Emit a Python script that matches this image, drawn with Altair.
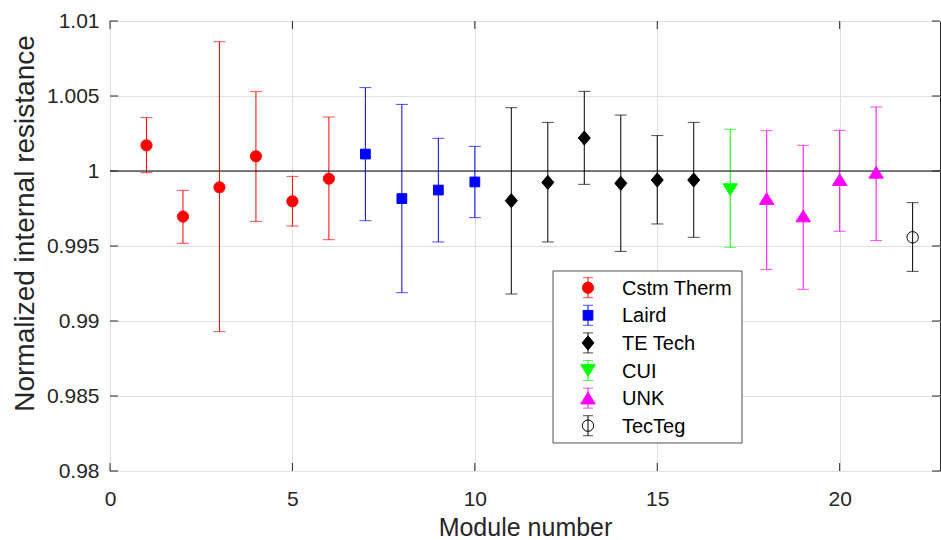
import altair as alt
import pandas as pd

# ---------------- data ----------------
modules = list(range(1, 23))
values = [1.00171, 0.99696, 0.99891, 1.00098, 0.99798, 0.99949,
          1.00113, 0.99816, 0.99873, 0.99927,
          0.99802, 0.99924, 1.00220, 0.99918, 0.99940, 0.99940,
          0.99876,
          0.99816, 0.99700, 0.99942, 0.99991,
          0.99558]
upper = [1.00356, 0.99871, 1.00862, 1.00529, 0.99964, 1.00360,
         1.00556, 1.00444, 1.00218, 1.00164,
         1.00422, 1.00324, 1.00531, 1.00373, 1.00236, 1.00324,
         1.00278,
         1.00269, 1.00171, 1.00271, 1.00427,
         0.99789]
lower = [0.99989, 0.99518, 0.98929, 0.99664, 0.99633, 0.99542,
         0.99669, 0.99189, 0.99527, 0.99689,
         0.99180, 0.99527, 0.99911, 0.99464, 0.99647, 0.99558,
         0.99491,
         0.99344, 0.99211, 0.99598, 0.99536,
         0.99331]
group_names = ["Cstm Therm", "Laird", "TE Tech", "CUI", "UNK", "TecTeg"]
groups = (["Cstm Therm"] * 6 + ["Laird"] * 4 + ["TE Tech"] * 6 +
          ["CUI"] + ["UNK"] * 4 + ["TecTeg"])
x_ticks = [0, 5, 10, 15, 20]
y_ticks = [0.98, 0.985, 0.99, 0.995, 1.0, 1.005, 1.01]

# ---------------- styles ----------------
colors = ["#ff0000", "#0000ff", "#000000", "#00ff00", "#ff00ff", "#000000"]
fills = ["#ff0000", "#0000ff", "#000000", "#00ff00", "#ff00ff", "transparent"]
shapes = ["circle", "square", "M0,-1L0.85,0L0,1L-0.85,0Z",
          "M0,0.8L1,-0.8L-1,-0.8Z", "M0,-0.8L1,0.8L-1,0.8Z", "circle"]
sizes = [125, 95, 200, 210, 210, 130]

W, H = 830, 450
XMAX = 22.75
YMIN, YMAX = 0.98, 1.01
FONT = "Liberation Sans"
AX = "#262626"


def px_x(px):
    return px / W * XMAX


def px_y(py):
    return YMAX - py / H * (YMAX - YMIN)


df = pd.DataFrame({"module": modules, "value": values, "upper": upper,
                   "lower": lower, "group": groups})

xs = alt.Scale(domain=[0, XMAX], nice=False, zero=False)
ys = alt.Scale(domain=[YMIN, YMAX], nice=False, zero=False)
col_scale = alt.Scale(domain=group_names, range=colors)

xenc = alt.X("module:Q", scale=xs,
             axis=alt.Axis(values=x_ticks, title="Module number", grid=True,
                           ticks=False, domain=False, labelPadding=17,
                           labelFlush=False,
                           labelFontSize=21, titleFontSize=25,
                           titleY=64, titleBaseline="alphabetic"))
yaxis = alt.Axis(values=y_ticks, format="~g",
                 title="Normalized internal resistance", grid=True,
                 ticks=False, domain=False, labelPadding=11, labelFlush=False,
                 labelFontSize=21, titleFontSize=28, titleX=-77,
                 titleY=202, titleBaseline="alphabetic", titleAngle=-90,
                 titleAlign="center")

base = alt.Chart(df)

zero_line = base.mark_rule(color="black", strokeWidth=1).encode(
    y=alt.Y("v:Q", scale=ys, axis=yaxis)
).transform_calculate(v="1").transform_aggregate(v="min(v)")

err = base.mark_rule(strokeWidth=1).encode(
    x=xenc,
    y=alt.Y("lower:Q", scale=ys, axis=yaxis),
    y2="upper:Q",
    color=alt.Color("group:N", scale=col_scale, legend=None),
)
cap_hi = base.mark_tick(orient="horizontal", size=12, thickness=1).encode(
    x=alt.X("module:Q", scale=xs),
    y=alt.Y("upper:Q", scale=ys),
    color=alt.Color("group:N", scale=col_scale, legend=None),
)
cap_lo = base.mark_tick(orient="horizontal", size=12, thickness=1).encode(
    x=alt.X("module:Q", scale=xs),
    y=alt.Y("lower:Q", scale=ys),
    color=alt.Color("group:N", scale=col_scale, legend=None),
)

# legend (positioned in pixel space, converted through the scales)
leg_top, leg_step = 266.7, 27.6
leg = pd.DataFrame({
    "group": group_names,
    "lx": [px_x(478)] * 6,
    "tx": [px_x(512)] * 6,
    "ly": [px_y(leg_top + i * leg_step) for i in range(6)],
    "lhi": [px_y(leg_top + i * leg_step - 10) for i in range(6)],
    "llo": [px_y(leg_top + i * leg_step + 10) for i in range(6)],
})

marker_layers = []
for g, c, f, s, sz in zip(group_names, colors, fills, shapes, sizes):
    for src, xf, yf in ((df, "module", "value"), (leg, "lx", "ly")):
        marker_layers.append(
            alt.Chart(src).mark_point(
                shape=s, size=sz, stroke=c, fill=f, filled=False,
                opacity=1, strokeWidth=1,
            ).encode(
                x=alt.X(f"{xf}:Q", scale=xs),
                y=alt.Y(f"{yf}:Q", scale=ys),
            ).transform_filter(alt.datum.group == g)
        )

# inward ticks
tick_len = 8
xt = pd.DataFrame({"t": x_ticks})
yt = pd.DataFrame({"t": y_ticks})
tick_b = alt.Chart(xt).mark_rule(color=AX).encode(
    x=alt.X("t:Q", scale=xs), y=alt.value(H - tick_len), y2=alt.value(H))
tick_t = alt.Chart(xt).mark_rule(color=AX).encode(
    x=alt.X("t:Q", scale=xs), y=alt.value(0), y2=alt.value(tick_len))
tick_l = alt.Chart(yt).mark_rule(color=AX).encode(
    y=alt.Y("t:Q", scale=ys), x=alt.value(0), x2=alt.value(tick_len))
tick_r = alt.Chart(yt).mark_rule(color=AX).encode(
    y=alt.Y("t:Q", scale=ys), x=alt.value(W - tick_len), x2=alt.value(W))

box = pd.DataFrame({"x1": [px_x(443)], "x2": [px_x(632)],
                    "y1": [px_y(250)], "y2": [px_y(422)]})
leg_box = alt.Chart(box).mark_rect(fill="white", stroke=AX,
                                   strokeWidth=0.8).encode(
    x=alt.X("x1:Q", scale=xs), x2="x2:Q",
    y=alt.Y("y1:Q", scale=ys), y2="y2:Q")
lb = alt.Chart(leg)
leg_err = lb.mark_rule(strokeWidth=1).encode(
    x=alt.X("lx:Q", scale=xs), y=alt.Y("llo:Q", scale=ys), y2="lhi:Q",
    color=alt.Color("group:N", scale=col_scale, legend=None))
leg_hi = lb.mark_tick(orient="horizontal", size=10, thickness=1).encode(
    x=alt.X("lx:Q", scale=xs), y=alt.Y("lhi:Q", scale=ys),
    color=alt.Color("group:N", scale=col_scale, legend=None))
leg_lo = lb.mark_tick(orient="horizontal", size=10, thickness=1).encode(
    x=alt.X("lx:Q", scale=xs), y=alt.Y("llo:Q", scale=ys),
    color=alt.Color("group:N", scale=col_scale, legend=None))
leg_txt = lb.mark_text(align="left", baseline="middle", font=FONT,
                       fontSize=20, color="black", dy=1).encode(
    x=alt.X("tx:Q", scale=xs), y=alt.Y("ly:Q", scale=ys), text="group:N")

chart = alt.layer(
    err, zero_line, cap_hi, cap_lo,
    tick_b, tick_t, tick_l, tick_r,
    leg_box, leg_err, leg_hi, leg_lo, leg_txt,
    *marker_layers,
).properties(
    width=W, height=H,
    autosize=alt.AutoSizeParams(type="none"),
    padding={"left": 110, "top": 21, "right": 1, "bottom": 69},
    background="white",
).configure_view(
    stroke=AX, strokeWidth=1
).configure_axis(
    labelFont=FONT, titleFont=FONT, labelColor=AX, titleColor=AX,
    titleFontWeight="normal", gridColor="#dfdfdf", gridWidth=1,
)

chart.save("out.html", embed_options={"renderer": "svg", "actions": False})
